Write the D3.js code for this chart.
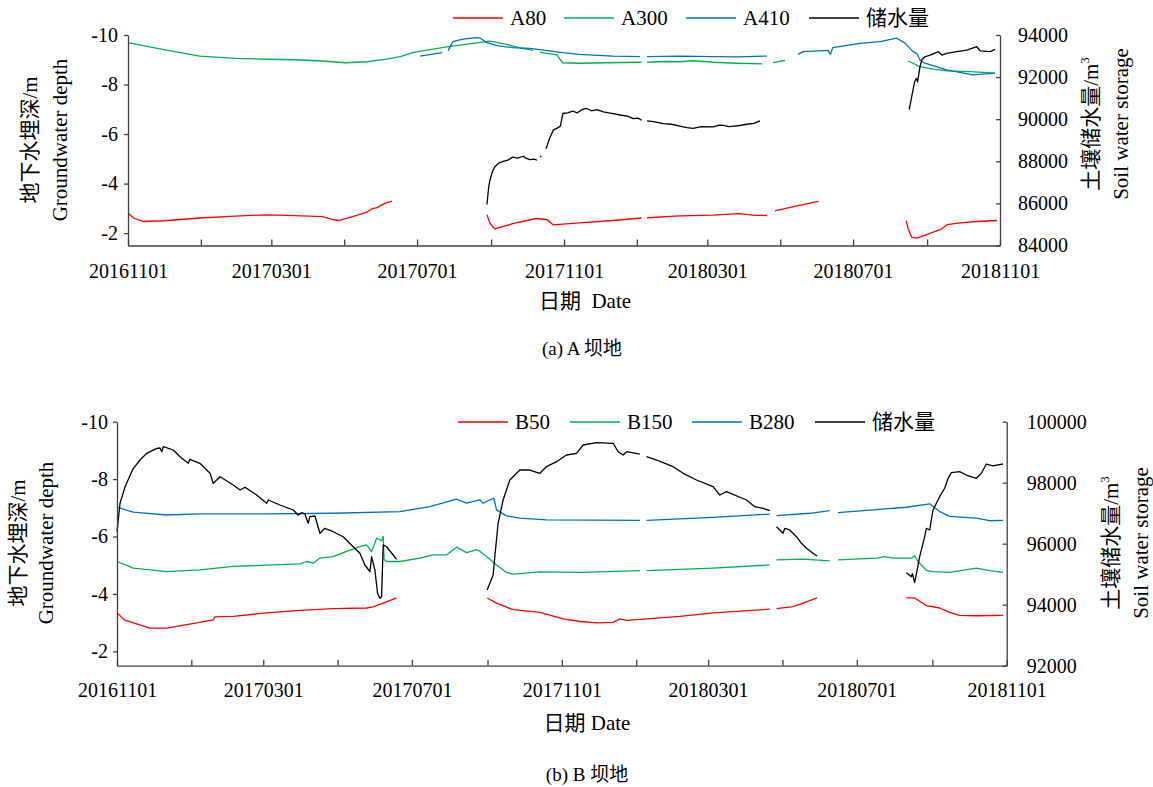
<!DOCTYPE html>
<html><head><meta charset="utf-8">
<script src="https://cdn.jsdelivr.net/npm/d3@7"></script>
<style>
body{margin:0;background:#fff}
svg text{font-family:"Liberation Serif","Times New Roman","Noto Sans CJK SC",serif;fill:#000}
</style>
</head><body>
<svg id="c" width="1153" height="787"></svg>
<script>
// ---------- data (x = days since 2016-11-01, null = gap) ----------
const startDate = "2016-11-01";
const endDate = "2018-11-01";
const xLabelTicks = ["20161101","20170301","20170701","20171101","20180301","20180701","20181101"];
const depthTicks = [-10,-8,-6,-4,-2];
const storageTicksA = [84000,86000,88000,90000,92000,94000];
const storageTicksB = [92000,94000,96000,98000,100000];
const seriesNamesA = ["A80","A300","A410","储水量"];
const seriesNamesB = ["B50","B150","B280","储水量"];

const A80 = [[0,-2.81],[5,-2.6],[12.6,-2.47],[30,-2.5],[60,-2.61],[90,-2.69],[116,-2.74],[140,-2.71],[163,-2.67],[168,-2.6],[172,-2.54],[177,-2.51],[190,-2.7],[200,-2.85],[205,-3.0],[208,-3.02],[215,-3.2],[221,-3.29],
 null,[300.5,-2.74],[303,-2.4],[307,-2.17],[322,-2.38],[342,-2.59],[351,-2.54],[356,-2.33],[378,-2.41],[406,-2.51],[430,-2.61],
 null,[434.5,-2.62],[462,-2.70],[490,-2.73],[511,-2.79],[525,-2.72],[535,-2.71],
 null,[541.6,-2.9],[560,-3.1],[578,-3.28],
 null,[651.4,-2.5],[653,-2.2],[656,-1.84],[660.5,-1.80],[680,-2.14],[685.7,-2.34],[696.5,-2.41],[710.8,-2.47],[727.5,-2.51]];

const A300 = [[0,-9.69],[15,-9.55],[31,-9.40],[60,-9.15],[90,-9.06],[116,-9.02],[140,-9.0],[163,-8.95],[182,-8.88],[200,-8.92],[215,-9.02],[228,-9.13],[239,-9.3],[267,-9.52],[295,-9.7],[303,-9.75],[317,-9.62],[328,-9.48],[339,-9.38],
 null,[345,-9.3],[359,-9.2],[362,-9.0],[364,-8.88],[378,-8.86],[400,-8.88],[430,-8.90],
 null,[434.5,-8.90],[450,-8.93],[462,-8.92],[473,-8.96],[490,-8.9],[510,-8.86],[531,-8.83],
 null,[540,-8.88],[550,-8.97],
 null,[653.2,-8.95],[663,-8.72],[674,-8.62],[685.4,-8.55],[705,-8.52],[725.8,-8.46]];

const A410 = [[244.5,-9.15],[263,-9.29],
 null,[268,-9.37],[270,-9.55],[272,-9.73],[280.5,-9.83],[292,-9.89],[295,-9.87],[300.5,-9.69],[309,-9.57],[322,-9.49],[336.5,-9.46],[351,-9.37],[364,-9.29],[378,-9.22],[406,-9.15],[428.6,-9.13],
 null,[434.5,-9.13],[462,-9.15],[490,-9.13],[510,-9.12],[535,-9.15],
 null,[561,-9.22],[565,-9.33],[582,-9.37],[586,-9.38],[588,-9.22],[590,-9.49],[613,-9.66],[629.6,-9.73],[643.5,-9.87],[650.5,-9.67],[657.2,-9.33],[660.3,-9.26],[663,-8.99],[667.2,-8.86],[685.4,-8.59],[707.4,-8.39],[725.8,-8.46]];

const storageA = [[300.5,85950],[302,86800],[303,87100],[305,87500],[307,87730],[310,87900],[314,88000],[318,88050],[322,88200],[326,88150],[331,88240],[333,88150],[336.5,88080],[340,88100],[342.5,88050],
 null,[345,88200],[346,88250],
 null,[350,88600],[353,89100],[356,89480],[360,89600],[362,89670],[364,90270],[368,90300],[372.5,90380],[376,90300],[380,90450],[384,90510],[388,90400],[392.6,90460],[398,90350],[406,90270],[412,90200],[418,90150],[423,90030],[427,90050],[430,89950],
 null,[434.5,89920],[440,89880],[448,89790],[455,89760],[462,89670],[468,89600],[473,89560],[480,89650],[490,89640],[495,89720],[498.6,89710],[503,89650],[507,89670],[512,89700],[518,89760],[524,89800],[529,89920],
 null,[654,90460],[658.5,91776],[660,91938],[661,91776],[663,92490],[664.5,92810],[667.2,92967],[671.5,93048],[678.5,93207],[681.3,93048],[685.4,93128],[693.8,93207],[702.2,93286],[710.6,93443],[713.4,93250],[721.8,93207],[725.8,93317]];

const B50 = [[0,-3.34],[6,-3.1],[13.4,-2.99],[27,-2.81],[40.8,-2.81],[57.2,-2.93],[79,-3.10],[80.4,-3.20],[95.4,-3.22],[122.8,-3.34],[150,-3.43],[177.4,-3.49],[204.8,-3.51],[210,-3.55],[218.4,-3.68],[229.4,-3.86],
 null,[303.7,-3.86],[311.4,-3.68],[325,-3.45],[346.9,-3.36],[366.1,-3.13],[379.8,-3.04],[393.5,-2.99],[407.1,-3.01],[412.6,-3.13],[418.1,-3.08],[461.8,-3.22],[489.1,-3.34],[535.6,-3.47],
 null,[541.1,-3.49],[554.7,-3.56],[562.9,-3.68],[574.4,-3.86],
 null,[647.7,-3.86],[654.5,-3.86],[664.1,-3.59],[675,-3.51],[683.2,-3.36],[691.4,-3.25],[705.1,-3.24],[727,-3.25]];

const B150 = [[0,-5.13],[13.4,-4.90],[40.8,-4.78],[68,-4.84],[95.4,-4.96],[150,-5.05],[155.6,-5.13],[161,-5.07],[166.5,-5.25],[177.4,-5.30],[188.4,-5.48],[199.3,-5.65],[204.8,-5.71],[208.9,-5.48],[213,-5.94],[215.7,-5.89],[217,-5.85],[218.4,-6.0],[219.2,-5.2],[221.2,-5.13],[232.1,-5.13],[248.5,-5.25],[259.4,-5.36],[270.4,-5.36],[278.6,-5.63],[286.8,-5.44],[295,-5.54],[297.7,-5.49],[303.2,-5.30],[311.4,-5.01],[319.6,-4.75],[325,-4.69],[346.9,-4.77],[379.8,-4.75],[429,-4.81],
 null,[434.5,-4.81],[489.1,-4.90],[535.6,-5.01],
 null,[541.1,-5.19],[562.9,-5.21],[584.8,-5.15],
 null,[591.6,-5.19],[623.1,-5.25],[629.9,-5.30],[636.7,-5.25],[651.8,-5.25],[654.5,-5.33],[657.2,-5.13],[664.1,-4.82],[669.5,-4.78],[683.2,-4.75],[705.1,-4.90],[716,-4.81],[727,-4.75]];

const B280 = [[0,-7.02],[13.4,-6.85],[40.8,-6.75],[68,-6.79],[122.8,-6.79],[177.4,-6.81],[232.1,-6.87],[256.7,-7.04],[278.6,-7.30],[286.8,-7.16],[297.7,-7.28],[300.4,-7.16],[309.2,-7.34],[311.4,-6.93],[319.6,-6.72],[330.5,-6.64],[352.4,-6.58],[429,-6.56],
 null,[434.5,-6.56],[489.1,-6.67],[535.6,-6.78],
 null,[541.1,-6.73],[568.4,-6.81],[584.8,-6.90],
 null,[591.6,-6.83],[647.7,-7.02],[666.8,-7.14],[675,-6.87],[683.2,-6.70],[705.1,-6.64],[716,-6.55],[727,-6.56]];

const storageB = [[0,96393],[2.5,97325],[6.6,97869],[13.4,98472],[18.9,98744],[24.4,98964],[32.6,99128],[35.3,99138],[36.7,99016],[38,99180],[46.2,99072],[51.7,98852],[58.5,98636],[59.9,98767],[68,98636],[76.3,98308],[79,97980],[84.5,98197],[95.4,97925],[101,97761],[105,97850],[114.6,97597],[122.8,97325],[124.1,97433],[133.7,97269],[144.6,97105],[148.7,96941],[151.5,97016],[154.2,96974],[156.9,96669],[158.3,96885],[162.4,96908],[166.5,96341],[170.6,96505],[177.4,96393],[185.6,96229],[193.8,95901],[199.3,95685],[203.4,95302],[207.5,95082],[208.9,95574],[211.6,95138],[213.8,94374],[215.7,94210],[217.1,94262],[218.4,95957],[221.2,95900],[226.6,95630],[229.4,95488],
 null,[303.7,94482],[308.6,94974],[310,95574],[312.7,96669],[316.8,97433],[322.3,98088],[325,98197],[330.5,98416],[338.7,98416],[346.9,98308],[352.4,98525],[360.6,98689],[368.8,98908],[377,98964],[382.5,99236],[393.5,99311],[407.1,99290],[411.2,99016],[415.3,98908],[418.1,99016],[429,98940],
 null,[434.5,98852],[442.7,98744],[448.1,98656],[456.3,98525],[464.5,98308],[475.5,98088],[489.1,97869],[494.6,97597],[500.1,97705],[516.5,97433],[523.3,97213],[530.1,97160],[535.6,97082],
 null,[541.1,96557],[546.5,96341],[547.9,96500],[552,96450],[557.5,96230],[561.6,96013],[565.7,95849],[571.1,95685],[574.4,95597],
 null,[647.7,95049],[651.8,94918],[652.6,95020],[654.5,94721],[658.6,95574],[662.7,96229],[664.1,96505],[666.8,96449],[669.5,97105],[675,97541],[679.1,97817],[681.9,98144],[684.6,98328],[691.4,98361],[696.9,98252],[705.1,98144],[709.2,98308],[713.3,98613],[718.7,98548],[727,98613]];

// ---------- drawing ----------
const FONT = '"Liberation Serif","Times New Roman","Noto Sans CJK SC",serif';
const colors = ["#ff0000","#00b050","#0070c0","#000000"];
const svg = d3.select("#c");
const t0 = d3.utcParse("%Y-%m-%d")(startDate);
const t1 = d3.utcParse("%Y-%m-%d")(endDate);
const fmt = d3.utcFormat("%Y%m%d");
const toDate = d => new Date(t0.getTime() + d * 864e5);

function panel(cfg){
  const g = svg.append("g");
  const x = d3.scaleUtc().domain([t0, t1]).range([cfg.left, cfg.right]);
  const yL = d3.scaleLinear().domain([-10, -1.5]).range([cfg.top, cfg.bottom]);
  const yR = d3.scaleLinear().domain(cfg.rDomain).range([cfg.bottom, cfg.top]);

  const lineL = d3.line().defined(d => d !== null).x(d => x(toDate(d[0]))).y(d => yL(d[1]));
  const lineR = d3.line().defined(d => d !== null).x(d => x(toDate(d[0]))).y(d => yR(d[1]));
  cfg.series.forEach((s, i) => {
    g.append("path").datum(s).attr("fill","none").attr("stroke",colors[i])
      .attr("stroke-width",1.3).attr("stroke-linejoin","round")
      .attr("d", i === 3 ? lineR : lineL);
  });

  const xt = d3.utcMonth.every(2).range(t0, d3.utcDay.offset(t1,1));
  const ax = g.append("g").attr("transform",`translate(0,${cfg.bottom})`)
    .call(d3.axisBottom(x).tickValues(xt).tickSizeInner(-6).tickSizeOuter(0).tickPadding(cfg.xPad)
      .tickFormat(d => xLabelTicks.includes(fmt(d)) ? fmt(d) : ""));
  const al = g.append("g").attr("transform",`translate(${cfg.left},0)`)
    .call(d3.axisLeft(yL).tickValues(depthTicks).tickSizeInner(4).tickSizeOuter(0).tickPadding(cfg.lPad)
      .tickFormat(d => String(d)));
  const ar = g.append("g").attr("transform",`translate(${cfg.right},0)`)
    .call(d3.axisRight(yR).tickValues(cfg.rTicks).tickSizeInner(-4).tickSizeOuter(0).tickPadding(cfg.rPad)
      .tickFormat(d => String(d)));
  [ax, al, ar].forEach(a => {
    a.attr("font-family", FONT);
    a.selectAll("path,line").attr("stroke","#404040").attr("stroke-width",1.3);
    a.selectAll("text").style("font-size","20px").style("font-family",FONT).attr("fill","#000");
  });

  const vt = (xx, yy, txt, sup) => {
    const t = g.append("text").attr("transform",`translate(${xx},${yy}) rotate(-90)`)
      .attr("text-anchor","middle").attr("dominant-baseline","central")
      .style("font-size","21px").style("font-family",FONT);
    t.append("tspan").text(txt);
    if (sup) t.append("tspan").text(sup).attr("dy",-7).style("font-size","13px");
    return t;
  };
  vt(cfg.lt1x, cfg.ltY, "地下水埋深/m");
  vt(cfg.lt2x, cfg.ltY, "Groundwater depth");
  vt(cfg.rt1x, cfg.rtY, "土壤储水量/m", "3");
  vt(cfg.rt2x, cfg.rtY, "Soil water storage");

  g.append("text").attr("x", cfg.xtX).attr("y", cfg.xtY).attr("text-anchor","middle")
    .attr("dominant-baseline","central").style("font-size","21px").style("font-family",FONT)
    .style("white-space","pre").text(cfg.xTitle);
  g.append("text").attr("x", cfg.capX).attr("y", cfg.capY).attr("text-anchor","middle")
    .attr("dominant-baseline","central").style("font-size","19px").style("font-family",FONT).text(cfg.caption);

  cfg.names.forEach((n, i) => {
    const lx = cfg.legX[i];
    g.append("line").attr("x1", lx).attr("x2", lx + 50).attr("y1", cfg.legY).attr("y2", cfg.legY)
      .attr("stroke", colors[i]).attr("stroke-width", 1.3);
    g.append("text").attr("x", lx + 57).attr("y", cfg.legY).attr("dominant-baseline","central")
      .style("font-size","21px").style("font-family",FONT).text(n);
  });
}

panel({left:128, right:1000, top:35, bottom:245.5, rDomain:[84000,94000], rTicks:storageTicksA,
  series:[A80, A300, A410, storageA], names:seriesNamesA,
  xPad:18, lPad:6, rPad:18,
  lt1x:30, lt2x:60, ltY:140, rt1x:1091, rt2x:1121, rtY:124,
  xtX:585, xtY:301, xTitle:"日期  Date", capX:582, capY:348, caption:"(a) A 坝地",
  legX:[453, 564, 686, 809], legY:18});

panel({left:117, right:1006.7, top:421.7, bottom:665.7, rDomain:[92000,100000], rTicks:storageTicksB,
  series:[B50, B150, B280, storageB], names:seriesNamesB,
  xPad:17, lPad:5, rPad:20,
  lt1x:18, lt2x:46, ltY:543, rt1x:1111, rt2x:1141, rtY:543,
  xtX:587, xtY:723, xTitle:"日期 Date", capX:587, capY:774, caption:"(b) B 坝地",
  legX:[458, 570, 692, 815], legY:422});
</script>
</body></html>
